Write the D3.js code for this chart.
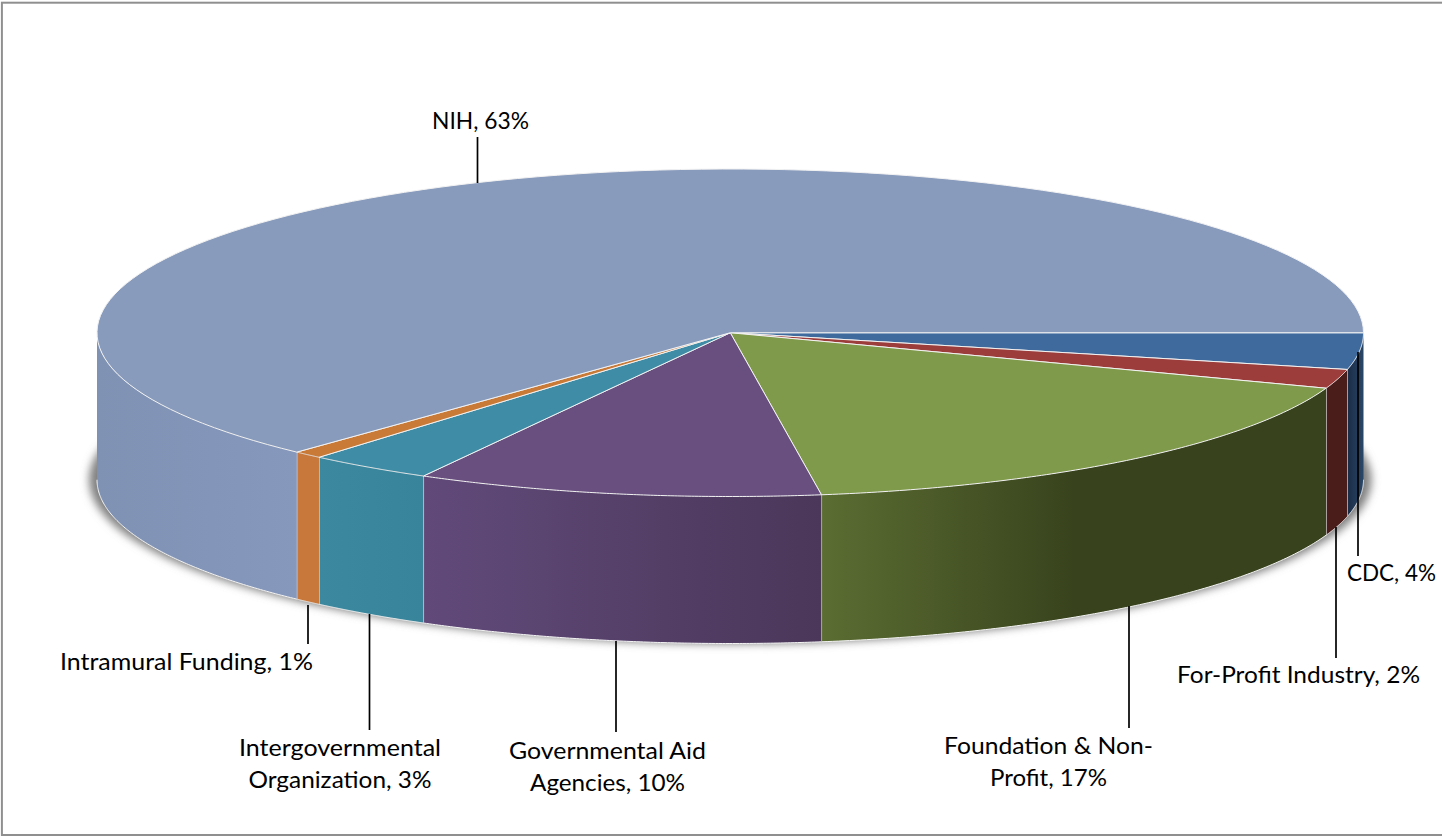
<!DOCTYPE html>
<html><head><meta charset="utf-8">
<style>html,body{margin:0;padding:0;background:#fff}svg{display:block}text{font-family:Lato,"Open Sans",sans-serif;font-size:24px;fill:#000}</style>
<script src="https://cdn.jsdelivr.net/npm/d3@7"></script>
</head><body><svg id="c" width="1442" height="836"></svg>
<script>
// clockwise from 3 o'clock
const categories = ["CDC","For-Profit Industry","Foundation & Non-Profit","Governmental Aid Agencies","Intergovernmental Organization","Intramural Funding","NIH"];
const shares = [3.6,1.9,17.2,10.35,3.2,0.75,63.0];
const labelPercents = [4,2,17,10,3,1,63];
const labelLines = [["CDC, 4%"],["For-Profit Industry, 2%"],["Foundation & Non-","Profit, 17%"],["Governmental Aid","Agencies, 10%"],["Intergovernmental","Organization, 3%"],["Intramural Funding, 1%"],["NIH, 63%"]];
const labelWidths = [[89],[243],[209,117],[197,155],[202,183],[253],[97]];
const topColors = ["#3e6a9e","#9c3d3b","#7f9a4a","#684f80","#3e8ca5","#c97a37","#889bbd"];
const sideStops = [["#1a2c46","#2a4768"],["#4a1d1a","#4a1d1a"],["#5b6d32","#38431d"],["#614a7a","#4a3759"],["#3c889f","#38849a"],["#c8783a","#c8783a"],["#7f92b4","#8698bc"]];
const labelPos = [[1391.5,581],[1298.5,683],[1048.5,754],[607.5,759],[340,756],[186.5,670],[480.5,129]];
const leaders = [[1358,352,556],[1336,527,658],[1129,606,728],[616,641,732],[369.5,614,730],[308,605,644],[477.5,183,137]];

const W=1442,H=836;
const svg=d3.select("#c");
const x=d3.scaleLinear([-1,1],[97,1363.5]);
const y=d3.scaleLinear([-1,1],[169,496.5]);
const depth=147;
const pie=d3.pie().sort(null).startAngle(Math.PI/2).endAngle(Math.PI/2+2*Math.PI);
const arcs=pie(shares);
const px=a=>x(Math.sin(a)), py=a=>y(-Math.cos(a));
const rim=(a0,a1)=>d3.range(0,121).map(i=>a0+(a1-a0)*i/120);
const line=d3.line();

const defs=svg.append("defs");
defs.append("filter").attr("id","blur").attr("x","-5%").attr("y","-10%").attr("width","110%").attr("height","120%")
  .append("feGaussianBlur").attr("stdDeviation",4);

// frame
svg.append("rect").attr("x",1.9).attr("y",2.7).attr("width",W+10).attr("height",832.3).attr("fill","#fff").attr("stroke","#8f8f8f").attr("stroke-width",2);

// shadow
svg.append("ellipse").attr("cx",x(0)).attr("cy",y(0)+depth).attr("rx",x(1)-x(0)+8).attr("ry",y(1)-y(0)+0.5)
  .attr("fill","#808080").attr("filter","url(#blur)");

// side walls: visible half runs from 3 o'clock to 9 o'clock
arcs.forEach((d,i)=>{
  const a0=Math.max(d.startAngle,Math.PI/2), a1=Math.min(d.endAngle,Math.PI*1.5);
  if(a1<=a0) return;
  const gid="side"+i;
  const g=defs.append("linearGradient").attr("id",gid).attr("gradientUnits","userSpaceOnUse")
    .attr("x1",px(a0)).attr("x2",px(a1)).attr("y1",0).attr("y2",0);
  g.append("stop").attr("offset","0").attr("stop-color",sideStops[i][1]);
  if(i==2) g.append("stop").attr("offset","0.5").attr("stop-color",sideStops[i][1]);
  g.append("stop").attr("offset","1").attr("stop-color",sideStops[i][0]);
  const t=rim(a0,a1).map(a=>[px(a),py(a)]);
  const b=rim(a1,a0).map(a=>[px(a),py(a)+depth]);
  svg.append("path").datum(categories[i]).attr("d",line(t.concat(b))+"Z").attr("fill",`url(#${gid})`);
  if(i<6) svg.append("line").attr("x1",px(a1)).attr("x2",px(a1)).attr("y1",py(a1)).attr("y2",py(a1)+depth).attr("stroke",i==5?"#d8dde8":"#e8e8ee").attr("stroke-width",1.2);
  svg.append("path").attr("d",line(b)).attr("fill","none").attr("stroke","#f4f4f4").attr("stroke-width",1);
});

// top faces
arcs.forEach((d,i)=>{
  const pts=[[x(0),y(0)]].concat(rim(d.startAngle,d.endAngle).map(a=>[px(a),py(a)]));
  svg.append("path").datum(categories[i]).attr("d",line(pts)+"Z").attr("fill",topColors[i])
    .attr("stroke","#f2f2f2").attr("stroke-width",1).attr("stroke-linejoin","round");
});

// leader lines
leaders.forEach(l=>svg.append("line").attr("x1",l[0]).attr("x2",l[0]).attr("y1",l[1]).attr("y2",l[2]).attr("stroke","#000").attr("stroke-width",1.7));

// labels
labelLines.forEach((ls,i)=>{
  ls.forEach((s,j)=>svg.append("text").attr("text-anchor","middle")
    .attr("x",labelPos[i][0]).attr("y",labelPos[i][1]+j*32)
    .attr("textLength",labelWidths[i][j]).attr("lengthAdjust","spacingAndGlyphs").text(s));
});
</script></body></html>
